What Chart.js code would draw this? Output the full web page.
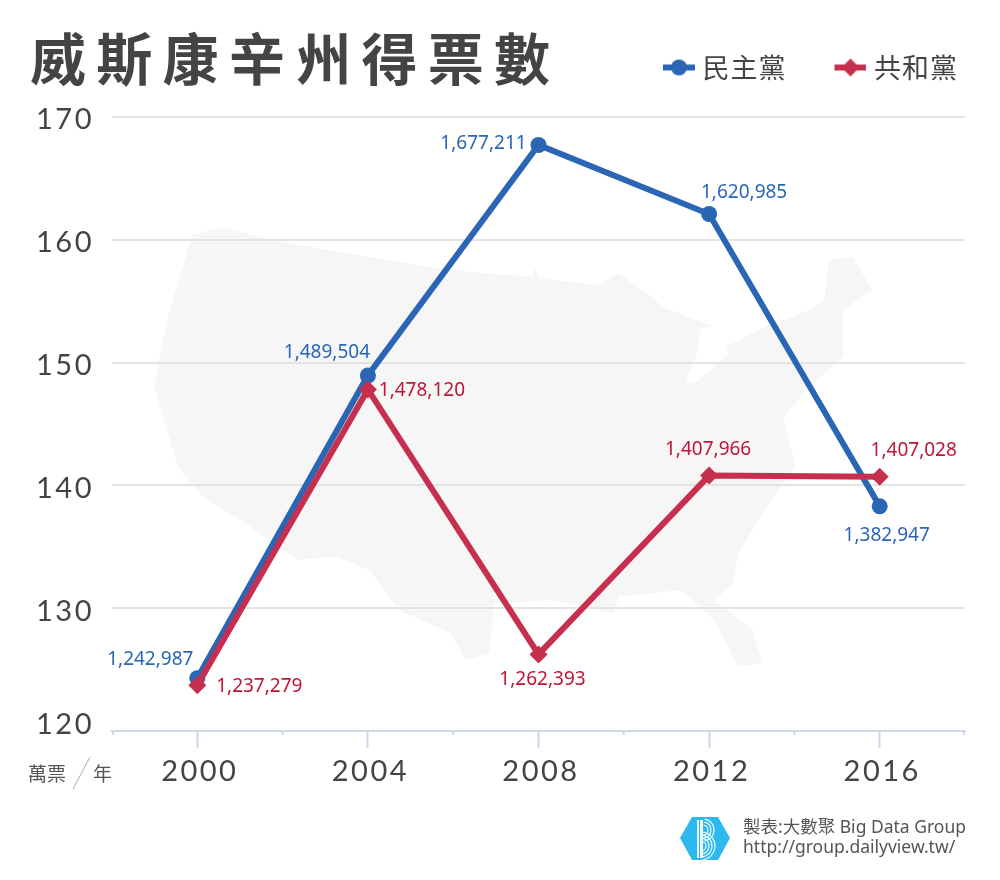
<!DOCTYPE html>
<html lang="zh-Hant">
<head>
<meta charset="utf-8">
<title>威斯康辛州得票數</title>
<style>html,body{margin:0;padding:0;background:#fff}canvas{display:block}</style>
<script src="https://cdn.jsdelivr.net/npm/chart.js@4"></script>
</head>
<body>
<canvas id="c" width="1000" height="880"></canvas>
<script>
const titleText = '威斯康辛州得票數';
const years = ['2000', '2004', '2008', '2012', '2016'];
const demVotes = [1242987, 1489504, 1677211, 1620985, 1382947];
const repVotes = [1237279, 1478120, 1262393, 1407966, 1407028];
const demName = '民主黨';
const repName = '共和黨';
const yTicks = [120, 130, 140, 150, 160, 170];
const unitLeft = '萬票';
const unitRight = '年';
const creditLine1 = '製表:大數聚 Big Data Group';
const creditLine2 = 'http://group.dailyview.tw/';

const BLUE = '#2b66b5', RED = '#c72f4e', BLUE_TXT = '#2b66b5', RED_TXT = '#bf1538';
const demOffsets = [[-47,-19],[-41,-23],[-55,-1],[35,-21],[7,29]];
const repOffsets = [[62,1],[54,1],[4,25],[-1,-26],[34,-26]];
const CJK = '"Noto Sans CJK TC"';
const NUM = 'Lato, "Open Sans", sans-serif';

// decorative backdrop silhouette, in page pixels via a translate/scale
const mapOutline = [[110,45],[175,20],[270,60],[640,150],[820,170],[825,145],[835,175],[960,195],[1000,160],[1070,230],[1090,260],[1200,320],[1170,325],[1165,400],[1140,480],[1160,490],[1200,440],[1230,400],[1225,380],[1300,325],[1400,270],[1430,240],[1440,120],[1490,110],[1530,210],[1500,240],[1470,270],[1470,410],[1400,500],[1345,590],[1370,740],[1310,860],[1250,1000],[1240,1090],[1200,1140],[1280,1230],[1300,1330],[1250,1340],[1200,1200],[1130,1110],[1000,1130],[990,1180],[860,1140],[740,1150],[730,1300],[680,1320],[650,1240],[540,1170],[480,1050],[410,1010],[330,1020],[210,900],[130,830],[80,740],[50,600],[30,500],[40,420],[60,280]];

function legendMark(color, kind) {
  const cv = document.createElement('canvas');
  cv.width = 70; cv.height = 20;
  const g = cv.getContext('2d');
  g.fillStyle = color;
  g.fillRect(38, 7, 32, 6);
  g.beginPath();
  if (kind === 'circle') g.arc(54, 10, 8, 0, Math.PI * 2);
  else { g.moveTo(54, 1); g.lineTo(63, 10); g.lineTo(54, 19); g.lineTo(45, 10); g.closePath(); }
  g.fill();
  return cv;
}

const pagePlugin = {
  id: 'page',
  beforeLayout(chart) {
    [chart.legend, chart.titleBlock].forEach(b => {
      if (b && !b._wrapped) {
        b._wrapped = true;
        const u = b.update;
        b.update = function (w, h, m) { u.call(this, w, h, m); this.height = 0; };
      }
    });
    const wrap = (b, sp) => {
      if (b && !b._wd) {
        b._wd = true;
        const d = b.draw;
        b.draw = function () { const c = this.ctx, o = c.letterSpacing; c.letterSpacing = sp; d.call(this); c.letterSpacing = o; };
      }
    };
    wrap(chart.titleBlock, '10.3px');
    wrap(chart.legend, '1px');
  },
  afterLayout(chart) {
    const t = chart.titleBlock, l = chart.legend;
    t.left = 30; t.right = 1000; t.top = 31; t.bottom = 91;
    l.left = 615; l.right = 1000; l.top = 38; l.bottom = 100;
  },
  beforeDraw(chart) {
    const ctx = chart.ctx;
    ctx.save();
    ctx.translate(140, 220);
    ctx.scale(0.4785, 0.3333);
    ctx.fillStyle = '#f6f6f6';
    ctx.beginPath();
    mapOutline.forEach((p, i) => i ? ctx.lineTo(p[0], p[1]) : ctx.moveTo(p[0], p[1]));
    ctx.closePath();
    ctx.fill();
    ctx.restore();
    ctx.letterSpacing = '2.5px';
    chart.scales.y.getLabelItems().forEach(it => {
      if (it._moved) return;
      it._moved = true;
      it.options.translation[1] += String(it.label) === '120' ? -6 : 3;
    });
    chart.scales.x.getLabelItems().forEach(it => {
      if (it._moved) return;
      it._moved = true;
      it.options.translation[0] += 2.5;
      it.options.translation[1] += 1;
    });
  },
  afterDatasetsDraw(chart) {
    const ctx = chart.ctx;
    ctx.save();
    ctx.letterSpacing = '0px';
    ctx.font = '19px "Noto Sans", sans-serif';
    ctx.textAlign = 'center';
    ctx.textBaseline = 'middle';
    [[0, demVotes, demOffsets, BLUE_TXT], [1, repVotes, repOffsets, RED_TXT]].forEach(([di, vals, offs, col]) => {
      ctx.fillStyle = col;
      chart.getDatasetMeta(di).data.forEach((pt, i) => {
        ctx.fillText(vals[i].toLocaleString('en-US'), pt.x + offs[i][0], pt.y + offs[i][1]);
      });
    });
    ctx.restore();
  },
  afterDraw(chart) {
    const ctx = chart.ctx, a = chart.chartArea, xs = chart.scales.x;
    ctx.save();
    ctx.letterSpacing = '0px';
    // short ticks on the category boundaries
    ctx.strokeStyle = '#ccd7ea'; ctx.lineWidth = 2;
    const step = xs.getPixelForValue(1) - xs.getPixelForValue(0);
    for (let i = 0; i <= years.length; i++) {
      const x = Math.min(Math.max(xs.getPixelForValue(0) + (i - 0.5) * step, a.left + 1), a.right - 1);
      ctx.beginPath(); ctx.moveTo(x, a.bottom); ctx.lineTo(x, a.bottom + 4); ctx.stroke();
    }
    // unit note
    ctx.fillStyle = '#555';
    ctx.font = '19px ' + CJK;
    ctx.textBaseline = 'middle';
    ctx.textAlign = 'left';
    ctx.fillText(unitLeft, 28, 774);
    ctx.fillText(unitRight, 93, 774);
    ctx.strokeStyle = '#aaa'; ctx.lineWidth = 1;
    ctx.beginPath(); ctx.moveTo(73, 789); ctx.lineTo(90, 757); ctx.stroke();
    // credit logo
    ctx.fillStyle = '#2cb9ee';
    ctx.beginPath();
    ctx.moveTo(680, 838); ctx.lineTo(692, 817); ctx.lineTo(718, 817); ctx.lineTo(730, 838); ctx.lineTo(718, 860); ctx.lineTo(692, 860); ctx.closePath();
    ctx.fill();
    ctx.strokeStyle = '#eafaff';
    ctx.fillStyle = '#eafaff';
    ctx.fillRect(697, 820, 2, 38);
    ctx.fillRect(700, 820, 3, 38);
    ctx.lineWidth = 1.2;
    [5, 8, 11].forEach(r => {
      ctx.beginPath(); ctx.arc(703, 830, r, -Math.PI / 2.2, Math.PI / 2.2); ctx.stroke();
    });
    [5, 8, 11, 14].forEach(r => {
      ctx.beginPath(); ctx.arc(701, 846, r, -Math.PI / 2.2, Math.PI / 2.2); ctx.stroke();
    });
    // credit text
    ctx.fillStyle = '#555';
    ctx.font = '17.5px "Noto Sans", ' + CJK;
    ctx.fillText(creditLine1, 743, 828);
    ctx.fillText(creditLine2, 743, 848);
    ctx.restore();
  }
};

new Chart(document.getElementById('c'), {
  type: 'line',
  data: {
    labels: years,
    datasets: [
      { label: demName, data: demVotes.map(v => v / 10000), borderColor: BLUE, backgroundColor: BLUE, borderWidth: 6, pointStyle: 'circle', pointRadius: 8, pointBackgroundColor: BLUE, pointBorderWidth: 0, tension: 0, order: 2, clip: false },
      { label: repName, data: repVotes.map(v => v / 10000), borderColor: RED, backgroundColor: RED, borderWidth: 6, pointStyle: 'rectRot', pointRadius: 9, pointBackgroundColor: RED, pointBorderWidth: 0, tension: 0, order: 1, clip: false }
    ]
  },
  options: {
    responsive: false,
    animation: false,
    layout: { padding: { top: 117, left: 0, right: 35, bottom: 49 } },
    scales: {
      x: {
        offset: true,
        afterFit(s) { s.height = 100; },
        border: { color: '#ccd7ea', width: 2 },
        grid: { offset: false, drawOnChartArea: false, drawTicks: true, tickLength: 17, tickColor: '#ccd7ea', tickWidth: 2 },
        ticks: { color: '#444', font: { family: NUM, size: 29 }, padding: 5, maxRotation: 0 }
      },
      y: {
        min: 120, max: 170,
        afterFit(s) { s.width = 112; },
        afterBuildTicks(s) { s.ticks = yTicks.map(v => ({ value: v })); },
        border: { display: false },
        grid: { color: '#e3e3e3', lineWidth: 2, drawTicks: false },
        ticks: { color: '#444', font: { family: NUM, size: 29 }, padding: 18 }
      }
    },
    plugins: {
      tooltip: { enabled: false },
      title: { display: true, text: titleText, align: 'start', color: '#444', padding: 0, font: { family: CJK, size: 56, weight: 'bold', lineHeight: 1 } },
      legend: {
        display: true, position: 'top', align: 'start',
        labels: {
          color: '#444', padding: 16, usePointStyle: true, pointStyleWidth: 58,
          font: { family: CJK, size: 27 },
          sort: (a, b) => a.datasetIndex - b.datasetIndex,
          generateLabels(chart) {
            return chart.data.datasets.map((d, i) => ({
              text: d.label, datasetIndex: i, fontColor: '#444', lineWidth: 0, hidden: false,
              pointStyle: legendMark(d.borderColor, d.pointStyle === 'circle' ? 'circle' : 'diamond')
            }));
          }
        }
      }
    }
  },
  plugins: [pagePlugin]
});
</script>
</body>
</html>
